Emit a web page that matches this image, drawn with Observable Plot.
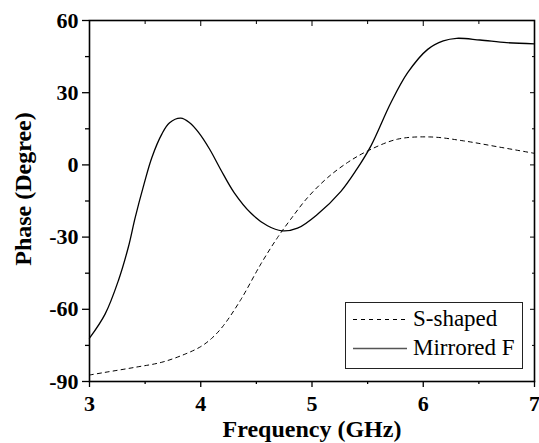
<!DOCTYPE html>
<html>
<head>
<meta charset="utf-8">
<script src="https://cdn.jsdelivr.net/npm/d3@7"></script>
<script src="https://cdn.jsdelivr.net/npm/@observablehq/plot@0.6"></script>
<style>
  html, body { margin: 0; padding: 0; background: #fff; }
  #wrap { position: relative; width: 539px; height: 443px; }
  #legend { position: absolute; left: 0; top: 0; }
  svg, svg text { font-family: "Liberation Serif", "Times New Roman", Tinos, "DejaVu Serif", serif !important; }
</style>
</head>
<body>
<div id="wrap"></div>
<script>
// Mirrored F series (GHz, degrees)
const mirroredFreq  = [3.00, 3.14, 3.26, 3.35, 3.41, 3.49, 3.56, 3.65, 3.72, 3.82, 3.90, 3.98, 4.08, 4.18, 4.30, 4.45, 4.60, 4.73, 4.87, 5.05, 5.26, 5.40, 5.53, 5.71, 5.86, 6.04, 6.18, 6.30, 6.51, 6.75, 7.00];
const mirroredPhase = [-72, -62, -48, -34, -22, -8, 3, 12.8, 17.5, 19.4, 17.5, 13.5, 6.5, -2, -11.5, -20, -25.3, -27.4, -26.3, -20.5, -11, -2, 7.9, 25.9, 38.3, 48, 51.5, 52.6, 51.9, 50.8, 50.3];
// S-shaped series
const sFreq  = [3.00, 3.14, 3.41, 3.65, 3.86, 4.00, 4.10, 4.20, 4.36, 4.54, 4.69, 4.81, 4.96, 5.14, 5.32, 5.50, 5.77, 6.07, 6.36, 6.66, 7.00];
const sPhase = [-87.3, -86.2, -84.1, -82, -78.6, -75.5, -72, -67, -56, -41.2, -30.2, -22.5, -13.6, -5.3, 1, 5.8, 10.7, 11.6, 10, 7.6, 4.8];
// ticks
const xMajor = [3, 4, 5, 6, 7];
const xMinor = [3.5, 4.5, 5.5, 6.5];
const yMajor = [-90, -60, -30, 0, 30, 60];
const yMinor = [-75, -45, -15, 15, 45];
const xTitle = "Frequency (GHz)";
const yTitle = "Phase (Degree)";
const legendLabels = ["S-shaped", "Mirrored F"];

const mirrored = mirroredFreq.map((f, i) => ({f, p: mirroredPhase[i]}));
const sShaped = sFreq.map((f, i) => ({f, p: sPhase[i]}));
const fmt = d => String(d);
const serif = "'Liberation Serif', 'Times New Roman', Tinos, 'DejaVu Serif', serif";

const chart = Plot.plot({
  width: 539,
  height: 443,
  marginLeft: 89,
  marginRight: 5,
  marginTop: 20,
  marginBottom: 62,
  style: {fontFamily: serif, fontSize: "22px", fontWeight: "bold", color: "#000", background: "#fff"},
  x: {domain: [3, 7]},
  y: {domain: [-90, 60]},
  marks: [
    Plot.line(sShaped, {x: "f", y: "p", curve: "catmull-rom", stroke: "#000", strokeWidth: 1, strokeDasharray: "4,4"}),
    Plot.line(mirrored, {x: "f", y: "p", curve: "catmull-rom", stroke: "#000", strokeWidth: 1.3}),
    Plot.frame({stroke: "#000", strokeWidth: 1.6}),
    Plot.axisY(yMajor, {anchor: "left", tickSize: 7, tickPadding: 4, tickFormat: fmt, label: null, strokeWidth: 1.3}),
    Plot.axisY(yMinor, {anchor: "left", tickSize: 4, fill: "none", label: null, strokeWidth: 1.3}),
    Plot.axisY(yMajor, {anchor: "right", tickSize: 5, dx: -5, fill: "none", label: null}),
    Plot.axisY(yMinor, {anchor: "right", tickSize: 3, dx: -3, fill: "none", label: null}),
    Plot.axisX(xMajor, {anchor: "bottom", tickSize: 6, tickPadding: 8, tickFormat: fmt, label: null, strokeWidth: 1.3}),
    Plot.axisX(xMinor, {anchor: "bottom", tickSize: 3, fill: "none", label: null, strokeWidth: 1.3}),
    Plot.axisX(xMajor, {anchor: "top", tickSize: 5, dy: 5, fill: "none", label: null}),
    Plot.axisX(xMinor, {anchor: "top", tickSize: 3, dy: 3, fill: "none", label: null}),
    Plot.text([xTitle], {text: d => d, frameAnchor: "bottom", textAnchor: "middle", lineAnchor: "middle", dy: 48, fontSize: 24, fontWeight: "bold"}),
    Plot.text([yTitle], {text: d => d, frameAnchor: "left", textAnchor: "middle", lineAnchor: "middle", rotate: -90, dx: -66, dy: -12, fontSize: 24, fontWeight: "bold"})
  ]
});
const wrap = document.getElementById("wrap");
wrap.appendChild(chart);

// legend overlay
const ns = "http://www.w3.org/2000/svg";
const lg = document.createElementNS(ns, "svg");
lg.setAttribute("id", "legend");
lg.setAttribute("width", 539);
lg.setAttribute("height", 443);
lg.innerHTML = `
  <rect x="345.5" y="302.5" width="177" height="66" fill="#fff" stroke="#222" stroke-width="1"/>
  <line x1="353" x2="407" y1="319.5" y2="319.5" stroke="#000" stroke-width="1" stroke-dasharray="4,4"/>
  <line x1="353" x2="407" y1="348.5" y2="348.5" stroke="#555" stroke-width="1.5"/>
  <text x="413" y="326" font-size="23" font-weight="normal" fill="#000">${legendLabels[0]}</text>
  <text x="413" y="355" font-size="23" font-weight="normal" fill="#000">${legendLabels[1]}</text>
`;
wrap.appendChild(lg);
</script>
</body>
</html>
